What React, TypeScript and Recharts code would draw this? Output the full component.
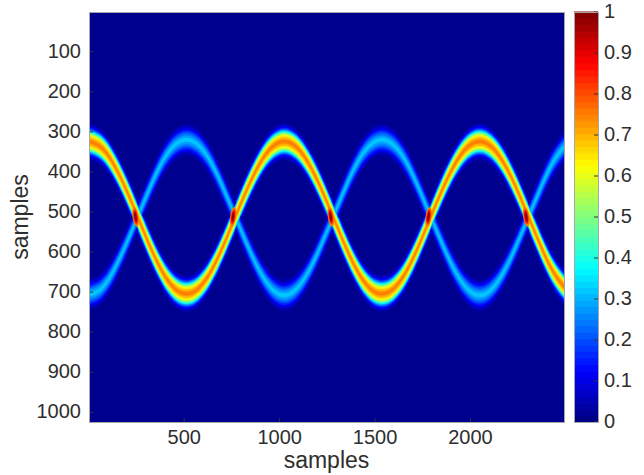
import React from "react";
import { Area, Bar, BarChart, ComposedChart, Scatter, XAxis, YAxis } from "recharts";

// centre rows of the two arcs, read every 64 samples
const sampleX = [
  1, 64, 128, 192, 256, 320, 384, 448, 512, 576, 640, 704, 768, 832, 896, 960, 1024, 1088, 1152, 1216,
  1280, 1344, 1408, 1472, 1536, 1600, 1664, 1728, 1792, 1856, 1920, 1984, 2048, 2112, 2176, 2240, 2304, 2368, 2432, 2496,
];
const strongRow = [
  324, 338, 379, 440, 512, 585, 648, 690, 704, 690, 648, 585, 512, 440, 379, 338, 324, 338, 379, 440,
  512, 585, 648, 690, 704, 690, 648, 585, 512, 440, 379, 338, 324, 338, 379, 440, 512, 585, 648, 690,
];
const weakRow = [
  706, 692, 648, 584, 512, 440, 376, 334, 320, 334, 376, 440, 512, 584, 648, 692, 708, 692, 648, 584,
  512, 440, 376, 334, 320, 334, 376, 440, 512, 584, 648, 692, 708, 692, 648, 584, 512, 440, 376, 334,
];
// how much of the weak arc's vertical spread is left along the period
const weakSpread = [
  1, 1, 0.98, 0.96, 0.94, 0.96, 0.98, 1, 1, 1, 0.98, 0.96, 0.94, 0.96, 0.98, 1, 1, 1, 0.98, 0.96,
  0.94, 0.96, 0.98, 1, 1, 1, 0.98, 0.96, 0.94, 0.96, 0.98, 1, 1, 1, 0.98, 0.96, 0.94, 0.96, 0.98, 1,
];

// intensity contours and their half height in samples
const strongLevels = [0.04, 0.08, 0.12, 0.16, 0.2, 0.25, 0.3, 0.35, 0.4, 0.45, 0.5, 0.55, 0.6, 0.65, 0.7, 0.75];
const strongHalf = [46, 41, 37, 34, 32, 30, 28, 26, 24.5, 23, 21, 19, 17, 14, 10.5, 5];
const weakLevels = [0.04, 0.08, 0.12, 0.16, 0.2, 0.24, 0.28, 0.32];
const weakHalf = [40, 33, 28, 24, 20, 16, 11, 5];

// the bright spots where the arcs cross
const crossings = [
  { x: 245, y: 512, tilt: -8 },
  { x: 756, y: 512, tilt: 8 },
  { x: 1268, y: 512, tilt: -8 },
  { x: 1780, y: 512, tilt: 8 },
  { x: 2292, y: 512, tilt: -8 },
];

const xTicks = [500, 1000, 1500, 2000];
const yTicks = [100, 200, 300, 400, 500, 600, 700, 800, 900, 1000];
const barTicks = [0, 0.1, 0.2, 0.3, 0.4, 0.5, 0.6, 0.7, 0.8, 0.9, 1];

const FONT = "'Liberation Sans', Arial, sans-serif";
const TEXT = "#2e2e2e";
const FRAME = "#a6a6a6";

function jet(v: number) {
  const ch = (c: number) => Math.round(255 * Math.max(0, Math.min(1, 1.5 - Math.abs(4 * v - c))));
  return `rgb(${ch(3)},${ch(2)},${ch(1)})`;
}

const tableRows = sampleX.map((x, i) => ({
  x,
  strong: strongRow[i],
  weak: weakRow[i],
  spread: weakSpread[i],
}));

const barSteps = Array.from({ length: 64 }, (_, i) => i);
const barRow = Object.fromEntries(barSteps.map((i) => [`s${i}`, 1 / 64]));

function strongArea(level: number, i: number) {
  return (
    <Area
      key={`strong-${level}`}
      type="natural"
      dataKey={(r: any) => [r.strong - strongHalf[i], r.strong + strongHalf[i]]}
      fill={jet(level)}
      fillOpacity={1}
      stroke="none"
      dot={false}
      activeDot={false}
      isAnimationActive={false}
    />
  );
}

function HotSpot(props: any) {
  const { cx, cy, payload } = props;
  return (
    <g transform={`rotate(${payload.tilt} ${cx} ${cy})`}>
      <ellipse cx={cx} cy={cy} rx={3} ry={10} fill="#ff7000" />
      <ellipse cx={cx} cy={cy} rx={2} ry={7} fill="#f01000" />
      <ellipse cx={cx} cy={cy} rx={1.1} ry={4.5} fill="#900000" />
    </g>
  );
}

export default function App() {
  const tick = { fontFamily: FONT, fontSize: 20, fill: TEXT };
  return (
    <div style={{ position: "absolute", left: 0, top: 0, width: 644, height: 475, background: "#fff" }}>
      <div style={{ position: "absolute", left: 89, top: 12, width: 475, height: 410, background: "#00008f" }} />
      <div style={{ position: "absolute", left: 0, top: 0 }}>
        <ComposedChart
          width={570}
          height={475}
          data={tableRows}
          margin={{ top: 12, right: 6, bottom: 0, left: 0 }}
        >
          <XAxis
            dataKey="x"
            type="number"
            domain={[1, 2490]}
            allowDataOverflow
            ticks={xTicks}
            height={53}
            tickSize={-4}
            tickMargin={12}
            tick={tick}
            tickLine={{ stroke: "#333" }}
            axisLine={false}
            label={{ value: "samples", position: "insideBottom", offset: 7, style: { ...tick, fontSize: 23 } }}
          />
          <YAxis
            dataKey="y"
            type="number"
            reversed
            domain={[1, 1024]}
            allowDataOverflow
            ticks={yTicks}
            width={89}
            tickSize={-4}
            tickMargin={12}
            tick={{ ...tick, dy: -1 }}
            tickLine={{ stroke: "#333" }}
            axisLine={false}
            label={{ value: "samples", angle: -90, position: "insideLeft", offset: 20, style: { ...tick, fontSize: 23, textAnchor: "middle" } }}
          />
          {strongLevels.slice(0, 5).map(strongArea)}
          {weakLevels.map((level, i) => (
            <Area
              key={`weak-${level}`}
              type="natural"
              dataKey={(r: any) => [r.weak - weakHalf[i] * r.spread, r.weak + weakHalf[i] * r.spread]}
              fill={jet(level)}
              fillOpacity={1}
              stroke="none"
              dot={false}
              activeDot={false}
              isAnimationActive={false}
            />
          ))}
          {strongLevels.map((level, i) => (i >= 5 ? strongArea(level, i) : null))}
          <Scatter data={crossings} shape={HotSpot} isAnimationActive={false} />
        </ComposedChart>
      </div>
      <div style={{ position: "absolute", left: 89, top: 12, width: 474, height: 409, border: `1px solid ${FRAME}` }} />
      <div style={{ position: "absolute", left: 574, top: 0 }}>
        <BarChart
          width={70}
          height={475}
          data={[barRow]}
          barCategoryGap={0}
          margin={{ top: 12, right: 0, bottom: 53, left: 0 }}
        >
          <XAxis hide />
          <YAxis
            orientation="right"
            type="number"
            domain={[0, 1]}
            ticks={barTicks}
            width={46}
            tickSize={-4}
            tickMargin={10}
            tick={{ ...tick, dy: -1 }}
            tickLine={{ stroke: "#333" }}
            axisLine={false}
          />
          {barSteps.map((i) => (
            <Bar
              key={i}
              dataKey={`s${i}`}
              stackId="bar"
              fill={jet((i + 0.5) / 64)}
              stroke={jet((i + 0.5) / 64)}
              strokeWidth={1}
              isAnimationActive={false}
            />
          ))}
        </BarChart>
      </div>
      <div style={{ position: "absolute", left: 574, top: 12, width: 23, height: 409, border: `1px solid ${FRAME}` }} />
    </div>
  );
}
